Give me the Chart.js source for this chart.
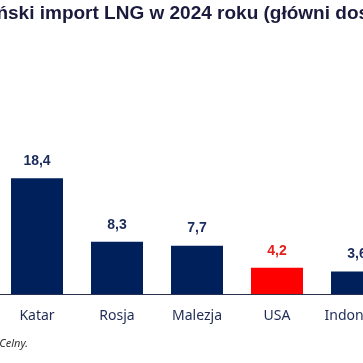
<!DOCTYPE html>
<html>
<head>
<meta charset="utf-8">
<script src="https://cdn.jsdelivr.net/npm/chart.js@4/dist/chart.umd.min.js"></script>
<style>
  html, body { margin: 0; padding: 0; background: #fff; }
  #wrap { position: relative; width: 363px; height: 363px; overflow: hidden; }
  #lngChart { position: absolute; left: -83px; top: 0; }
</style>
</head>
<body>
<div id="wrap"><canvas id="lngChart" width="560" height="363"></canvas></div>
<script>
// Dane: import LNG (mln t), główni dostawcy
const kraje = ['Katar', 'Rosja', 'Malezja', 'USA', 'Indonezja'];
const importLNG = [18.4, 8.3, 7.7, 4.2, 3.6];
const tytul = 'Chiński import LNG w 2024 roku (główni dostawcy)';
const zrodlo = 'Źródło: Generalny Urząd Celny.';

const granat = '#00205b';
const czerwony = '#ff0000';
const kolory = kraje.map(k => k === 'USA' ? czerwony : granat);
const koloryEtykiet = kraje.map(k => k === 'USA' ? '#e3201b' : '#1b2a5c');

// Etykiety wartości nad słupkami
const etykietyWartosci = {
    id: 'etykietyWartosci',
    afterDatasetsDraw(chart) {
        const ctx = chart.ctx;
        const meta = chart.getDatasetMeta(0);
        ctx.save();
        ctx.font = 'bold 14px "Liberation Sans", Arial, sans-serif';
        ctx.textAlign = 'center';
        ctx.textBaseline = 'bottom';
        meta.data.forEach((bar, i) => {
            ctx.fillStyle = koloryEtykiet[i];
            ctx.fillText(importLNG[i].toFixed(1).replace('.', ','), bar.x, bar.y - 10);
        });
        ctx.restore();
    }
};

// Źródło pod wykresem
const stopka = {
    id: 'stopka',
    afterDraw(chart) {
        const ctx = chart.ctx;
        ctx.save();
        ctx.font = 'italic 11px "Noto Sans", sans-serif';
        ctx.fillStyle = '#333333';
        ctx.textAlign = 'right';
        ctx.textBaseline = 'middle';
        ctx.fillText(zrodlo, chart.chartArea.left + 31, 344);
        ctx.restore();
    }
};

const pustaOs = (pos) => ({
    position: pos,
    display: true,
    ticks: { display: false },
    grid: { display: false },
    border: { display: false },
    afterFit: s => { s.width = 80; }
});

const ctx = document.getElementById('lngChart').getContext('2d');
new Chart(ctx, {
    type: 'bar',
    data: {
        labels: kraje,
        datasets: [{
            label: 'Import LNG',
            data: importLNG,
            backgroundColor: kolory,
            borderWidth: 0,
            barPercentage: 0.65,
            categoryPercentage: 1.0
        }]
    },
    options: {
        responsive: false,
        animation: false,
        layout: { padding: { top: 0, bottom: 26, left: 0, right: 0 } },
        scales: {
            x: {
                grid: { display: false, drawTicks: false },
                border: { display: true, color: '#2b3350', width: 1 },
                ticks: {
                    color: '#1f2b55',
                    padding: 13,
                    font: { family: '"Noto Sans", sans-serif', size: 14 }
                }
            },
            y: Object.assign(pustaOs('left'), { min: 0, max: 37 }),
            y2: pustaOs('right')
        },
        plugins: {
            legend: { display: false },
            tooltip: { enabled: false },
            title: {
                display: true,
                text: tytul,
                color: '#1a1a3c',
                padding: { top: 2, bottom: 36 },
                font: { family: '"Liberation Sans", Arial, sans-serif', size: 19, weight: 'bold' }
            }
        }
    },
    plugins: [etykietyWartosci, stopka]
});
</script>
</body>
</html>
